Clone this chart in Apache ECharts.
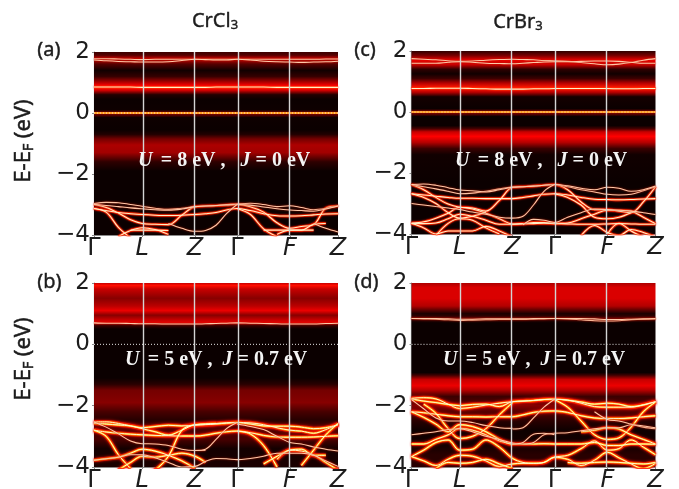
<!DOCTYPE html>
<html><head><meta charset="utf-8">
<style>html,body{margin:0;padding:0;background:#fff}#c{width:679px;height:489px}</style>
<script src="https://cdn.jsdelivr.net/npm/echarts@6/dist/echarts.min.js"></script>
</head><body><div id="c"></div>
<script>
const _ = null;
const kGrid = [0,.05,.1,.15,.197,.25,.305,.36,.414,.457,.5,.543,.586,.64,.695,.75,.803,.85,.9,.95,1];
const kTicks = [0,.197,.414,.586,.803,1];
const kLabels = ['Γ','L','Z','Γ','F','Z'];
const energyTicks = [-4,-2,0,2];

// intensity of the broad background, [energy, level 0..1]
const glowA = [[2,.08],[1.9,.12],[1.78,.3],[1.6,.12],[1.4,.015],[1.2,.07],[1.05,.22],[.92,.36],[.85,.42],[.75,.33],[.6,.04],[.45,.005],[.1,.01],[.03,.15],[0,.35],[-.05,.15],[-.15,.01],[-.55,.005],[-.7,.04],[-.85,.17],[-1.05,.26],[-1.3,.24],[-1.6,.06],[-1.9,.005],[-4,.005]];
const glowB = [[2,.3],[1.92,.42],[1.8,.3],[1.5,.2],[1.25,.28],[1.1,.36],[.95,.2],[.8,.3],[.7,.35],[.62,.08],[.5,.005],[-1.1,.005],[-1.3,.05],[-1.5,.17],[-1.9,.2],[-2.2,.1],[-2.45,.05],[-2.7,.1],[-3.1,.1],[-3.4,.02],[-4,.03]];
const glowC = [[2,.06],[1.85,.18],[1.7,.36],[1.55,.3],[1.4,.06],[1.25,.015],[1.1,.08],[.95,.27],[.8,.44],[.65,.28],[.5,.02],[.1,.005],[.03,.18],[0,.4],[-.04,.18],[-.15,.005],[-.45,.005],[-.55,.1],[-.65,.3],[-.8,.4],[-1.0,.27],[-1.2,.08],[-1.4,.015],[-2.3,.005],[-4,.005]];
const glowD = [[2,.26],[1.85,.33],[1.5,.33],[1.25,.27],[1.1,.12],[1,.03],[.92,.06],[.85,.15],[.78,.05],[.7,.005],[-.92,.005],[-1.0,.08],[-1.15,.3],[-1.35,.36],[-1.5,.27],[-1.7,.08],[-1.85,.1],[-2.0,.2],[-2.2,.12],[-2.5,.05],[-2.8,.01],[-3.3,.02],[-3.6,.05],[-4,.05]];

// bands, each sampled on kGrid
const bandsABright = [
 [.85,.85,.85,.85,.84,.84,.84,.84,.84,.84,.85,.85,.85,.85,.85,.84,.84,.84,.84,.84,.84],
 [-3.13,-3.2,-3.26,-3.3,-3.33,-3.35,-3.36,-3.35,-3.33,-3.3,-3.26,-3.18,-3.13,-3.2,-3.3,-3.37,-3.38,-3.37,-3.34,-3.31,-3.3],
 [-3.0,-3.1,-3.28,-3.5,-3.62,-3.65,-3.66,-3.35,-3.07,-3.05,-3.04,-3.02,-3.0,-3.07,-3.25,-3.6,-3.78,-3.72,-3.66,-3.12,-3.05],
 [-3.13,-3.25,-3.75,-4.1,_,_,_,_,_,_,_,_,-3.13,-3.32,-3.8,-4.05,_,_,_,_,_],
 [_,_,-4.05,-3.85,-3.76,-3.82,-3.98,_,_,_,_,_,_,_,_,-3.98,-3.84,-3.84,-3.65,-3.62,_],
 [_,_,_,-3.84,-3.84,-3.84,-3.85,_,_,_,_,_,_,_,-3.84,-3.84,-3.84,-3.84,-3.84,_,_]
];
const bandsAFaint = [
 [1.78,1.78,1.77,1.76,1.75,1.76,1.76,1.76,1.76,1.76,1.76,1.76,1.76,1.76,1.76,1.76,1.76,1.76,1.76,1.77,1.77],
 [1.74,1.71,1.69,1.68,1.67,1.67,1.68,1.72,1.76,1.75,1.74,1.74,1.76,1.74,1.7,1.68,1.67,1.66,1.67,1.68,1.7],
 [-2.97,-2.93,-2.94,-3.0,-3.06,-3.12,-3.16,-3.12,-3.07,-3.05,-3.03,-3.0,-2.98,-2.96,-3.0,-3.07,-3.04,-3.1,-3.17,-3.13,-3.05],
 [-3.0,-3.03,-3.07,-3.11,-3.14,-3.17,-3.19,-3.15,-3.07,-3.05,-3.03,-3.01,-3.0,-3.02,-3.08,-3.14,-3.18,-3.2,-3.22,-3.15,-3.05],
 [_,_,_,_,_,_,-3.62,-3.78,-3.88,-3.85,-3.68,-3.3,-3.0,_,_,_,_,_,_,_,_],
 [_,_,_,_,_,_,_,_,_,_,_,_,_,_,_,_,_,_,-3.62,-3.78,-3.9]
];
const bandsBBright = [
 [-2.8,-2.86,-2.9,-2.93,-2.95,-2.97,-2.98,-2.99,-2.99,-2.96,-2.9,-2.85,-2.83,-2.88,-2.97,-3.02,-3.03,-3.03,-3.02,-3.0,-2.98],
 [-2.53,-2.53,-2.58,-2.66,-2.75,-2.85,-2.96,-2.8,-2.62,-2.6,-2.58,-2.56,-2.55,-2.56,-2.62,-2.72,-2.8,-2.83,-2.9,-2.78,-2.62],
 [-2.57,-2.6,-2.63,-2.66,-2.72,-2.68,-2.64,-2.66,-2.64,-2.62,-2.6,-2.57,-2.55,-2.6,-2.66,-2.67,-2.67,-2.7,-2.75,-2.72,-2.62],
 [-2.8,-3.0,-3.6,-4.05,_,_,_,_,_,_,_,_,-2.83,-2.92,-3.3,-4.0,_,_,_,_,_],
 [-3.78,-3.73,-3.68,-3.55,-3.42,-3.48,-3.62,-3.8,-4.05,_,_,_,_,_,_,-3.75,-3.45,-3.48,-3.6,-3.85,-4.1],
 [_,_,-4.1,-3.85,-3.65,-3.68,-3.62,-3.55,-3.65,-3.85,_,_,_,_,-3.9,-3.65,-3.45,-3.42,-3.62,-3.62,_],
 [_,_,_,_,-4.3,-4.1,-3.65,-2.8,-2.62,-2.6,-2.58,_,_,_,_,_,_,-3.95,-3.45,-2.95,-2.58]
];
const bandsBFaint = [
 [.7,.69,.69,.68,.67,.67,.66,.66,.66,.67,.68,.69,.7,.69,.68,.67,.66,.66,.66,.68,.69],
 [-2.53,-2.7,-2.92,-3.15,-3.24,-3.25,-3.3,-3.42,-3.46,-3.46,_,_,_,_,_,_,_,_,_,_,_],
 [_,_,_,_,_,_,_,_,-3.46,-3.42,-3.1,-2.75,-2.55,_,_,_,_,_,_,_,_],
 [-3.78,-3.73,-3.68,-3.6,-3.6,-3.7,-3.85,-4,-3.98,-3.82,-3.72,-3.73,-3.76,-3.72,-3.65,-3.55,-3.55,-3.55,-3.62,-3.8,-3.98],
 [_,_,_,_,_,_,_,_,_,_,_,_,-2.6,-2.68,-2.78,-3.0,-3.2,-3.25,-3.35,-3.42,-3.48]
];
const bandsCBright = [
 [.77,.77,.78,.78,.78,.77,.76,.75,.75,.75,.76,.76,.77,.77,.77,.77,.77,.76,.76,.77,.77],
 [-2.68,-2.72,-2.76,-2.8,-2.83,-2.83,-2.84,-2.84,-2.84,-2.8,-2.75,-2.7,-2.68,-2.72,-2.8,-2.86,-2.87,-2.88,-2.87,-2.85,-2.84],
 [-2.38,-2.55,-2.8,-3.02,-3.12,-3.15,-3.25,-2.9,-2.47,-2.45,-2.43,-2.4,-2.38,-2.55,-2.95,-3.2,-3.2,-3.25,-3.3,-2.95,-2.45],
 [-2.68,-2.8,-3.0,-3.3,-3.48,-3.42,-3.28,_,_,_,_,_,-2.68,-2.8,-3.05,-3.45,-3.5,-3.45,-3.3,_,_],
 [-3.64,-3.6,-3.48,-3.32,-3.12,-3.18,-3.32,-3.5,-3.67,-3.66,-3.62,-3.62,-3.65,-3.64,-3.5,-3.35,-3.22,-3.22,-3.25,-3.45,-3.66],
 [-3.66,-3.66,-3.64,-3.5,-3.35,-3.42,-3.55,-3.68,-3.68,-3.67,-3.66,-3.65,-3.66,-3.67,-3.68,-3.68,-3.67,-3.66,-3.67,-3.68,-3.68],
 [-3.65,-3.8,-4.0,-3.9,-3.9,-3.9,-3.75,-3.9,-4.1,_,_,_,_,_,-4.05,-3.72,-3.95,-4.05,-3.85,-3.95,-4.1],
 [_,_,-4.05,-3.65,-3.5,-3.55,-3.8,-4.0,_,_,_,_,_,_,_,_,-4.0,-3.65,-3.9,-4.1,_]
];
const bandsCFaint = [
 [1.75,1.73,1.71,1.68,1.66,1.67,1.7,1.72,1.73,1.72,1.71,1.69,1.68,1.66,1.62,1.58,1.55,1.57,1.62,1.7,1.75],
 [1.6,1.6,1.6,1.63,1.65,1.63,1.6,1.59,1.58,1.6,1.62,1.64,1.65,1.65,1.66,1.67,1.67,1.66,1.63,1.6,1.6],
 [-2.38,-2.45,-2.52,-2.6,-2.68,-2.66,-2.6,-2.52,-2.46,-2.45,-2.43,-2.4,-2.38,-2.45,-2.55,-2.62,-2.7,-2.72,-2.7,-2.58,-2.45],
 [-2.38,-2.36,-2.4,-2.48,-2.56,-2.58,-2.62,-2.55,-2.47,-2.45,-2.43,-2.4,-2.38,-2.42,-2.5,-2.55,-2.47,-2.5,-2.6,-2.55,-2.43],
 [-3.0,-3.05,-3.1,-3.15,-3.2,-3.28,-3.35,-3.45,-3.48,-3.42,-3.05,-2.6,-2.38,_,_,_,_,_,_,_,_],
 [_,_,_,_,_,_,_,_,_,-3.7,-3.52,-3.55,-3.62,-3.45,-3.3,-3.18,-3.2,-3.22,-3.25,-3.3,-3.36]
];
const bandsDBright = [
 [-1.76,-1.74,-1.78,-1.95,-2.09,-2.05,-1.98,-1.92,-1.87,-1.85,-1.83,-1.8,-1.79,-1.82,-1.92,-2.03,-2.05,-2.05,-2.05,-1.97,-1.87],
 [-1.78,-1.85,-1.9,-1.96,-2.0,-1.96,-1.95,-2.03,-1.87,-1.85,-1.83,-1.8,-1.79,-1.82,-1.88,-1.95,-1.92,-1.95,-2.03,-1.98,-1.87],
 [-2.2,-2.23,-2.28,-2.33,-2.36,-2.36,-2.37,-2.36,-2.36,-2.3,-2.22,-2.18,-2.17,-2.22,-2.33,-2.4,-2.42,-2.42,-2.4,-2.36,-2.33],
 [_,-1.95,-2.25,-2.75,-3.07,-3.0,-2.75,-2.3,-1.9,_,_,_,-1.8,-2.05,-2.5,-2.95,-3.1,-3.05,-2.7,-2.2,-1.88],
 [-3.25,-3.25,-3.1,-2.95,-2.74,-2.8,-2.95,-3.15,-3.25,_,_,_,_,_,-2.85,-2.8,-2.72,-2.76,-2.95,-3.1,-3.25],
 [-3.66,-3.45,-3.2,-3.12,-3.45,-3.42,-3.12,-3.35,-3.72,-3.85,-3.88,-3.85,-3.68,-3.62,-3.4,-3.15,-3.45,-3.4,-3.12,-3.35,-3.6],
 [-3.66,-3.8,-3.95,-3.75,-3.62,-3.65,-3.8,-3.98,-3.9,-3.88,-3.88,-3.85,-3.68,-3.75,-3.95,-3.78,-3.52,-3.7,-3.9,-4.05,-3.88],
 [_,_,-4.05,-3.85,-3.88,-3.85,-3.75,-3.9,-4.05,_,_,_,_,-3.85,-3.88,-3.85,-3.84,-3.85,-3.88,-3.9,-3.85],
 [-2.2,-2.38,-2.6,-2.85,-2.62,-2.68,-2.85,-3.1,-3.25,-3.25,-3.25,-3.24,-3.25,-3.25,-3.25,-3.2,-3.3,-3.3,-3.25,-3.25,-3.26]
];
const bandsDFaint = [
 [.84,.83,.82,.8,.78,.79,.8,.81,.81,.81,.82,.83,.84,.83,.8,.77,.76,.77,.8,.82,.83],
 [.84,.84,.84,.83,.82,.82,.83,.83,.83,.83,.84,.84,.84,.84,.84,.83,.81,.81,.82,.83,.84],
 [-1.8,-2.1,-2.4,-2.5,-2.5,-2.55,-2.65,-2.72,-2.74,_,_,_,_,_,_,-2.2,-2.45,-2.5,-2.6,-2.7,-2.75],
 [-2.95,-2.9,-2.85,-2.78,-2.75,-2.85,-3.0,-3.1,-3.22,-3.25,-3.2,-2.95,-2.9,-2.88,-2.82,-2.75,-2.72,-2.72,-2.62,-2.66,-2.72],
 [_,_,_,_,_,_,_,_,-2.76,-2.72,-2.4,-2.05,-1.79,_,_,_,_,_,_,_,_],
 [_,_,_,_,_,_,_,_,-3.25,-3.2,-2.93,-2.9,-2.95,_,_,_,_,_,_,_,_]
];
const zeroLine = [0,0];
const kEnds = [0,1];

const panels = [
 {id:'(a)', left:94, top:52, h:183, glow:glowA, bright:bandsABright, faint:bandsAFaint, strong:true, u:'8', j:'0', nx:138, ny:151, lx:37, ly:40, sep:'   '},
 {id:'(b)', left:94, top:283, h:184, glow:glowB, bright:bandsBBright, faint:bandsBFaint, strong:false, u:'5', j:'0.7', nx:125, ny:350, lx:37, ly:272, sep:'  '},
 {id:'(c)', left:411.5, top:51, h:183, glow:glowC, bright:bandsCBright, faint:bandsCFaint, strong:true, u:'8', j:'0', nx:455, ny:151, lx:354, ly:40, sep:'   '},
 {id:'(d)', left:411.5, top:283, h:184, glow:glowD, bright:bandsDBright, faint:bandsDFaint, strong:false, u:'5', j:'0.7', nx:443, ny:350, lx:354, ly:272, sep:'  '}
];

function hot(v){
  const c = t => Math.round(255*Math.max(0,Math.min(1,t)));
  return `rgb(${c(.03+v/.4)},${c((v-.4)/.4)},${c((v-.8)/.2)})`;
}
const ink='#1c1c1c';
const grid=[],xAxis=[],yAxis=[],series=[],graphic=[];
panels.forEach((p,i)=>{
  grid.push({left:p.left,top:p.top,width:244,height:p.h,containLabel:false,outerBoundsMode:'none'});
  xAxis.push({type:'value',gridIndex:i,min:0,max:1,
    axisLine:{show:true,onZero:false,lineStyle:{color:'#8a8a8a',width:1.2}},
    axisTick:{show:true,length:2,lineStyle:{color:'#8a8a8a'},customValues:kTicks},
    splitLine:{show:false},
    axisLabel:{customValues:kTicks,margin:2,fontFamily:'DejaVu Sans',fontSize:24,color:ink,
      formatter:v=>{const n=kTicks.indexOf(v);const s=kLabels[n];return s==='Γ'?s:'{i|'+s+'}';},
      rich:{i:{fontFamily:'DejaVu Sans',fontStyle:'italic',fontSize:24,color:ink}}}});
  yAxis.push({type:'value',gridIndex:i,min:-4,max:2,
    axisLine:{show:true,onZero:false,lineStyle:{color:'#8a8a8a',width:1.2}},
    axisTick:{show:true,length:2,lineStyle:{color:'#8a8a8a'},customValues:energyTicks},
    splitLine:{show:false},
    axisLabel:{customValues:energyTicks,margin:4,fontFamily:'DejaVu Sans',fontSize:23,color:ink,
      formatter:v=>String(v).replace('-','\u2212')}});
  const top=p.glow[0][0], span=top-p.glow[p.glow.length-1][0];
  const stops=p.glow.map(g=>({offset:(top-g[0])/span,color:hot(g[1])}));
  series.push({type:'custom',xAxisIndex:i,yAxisIndex:i,z:1,silent:true,clip:true,data:p.glow,
    encode:{y:0},
    renderItem:(params,api)=>{
      if(params.dataIndex!==0) return null;
      const a=api.coord([0,2]),b=api.coord([1,-4]);
      return {type:'rect',shape:{x:a[0],y:a[1],width:b[0]-a[0],height:b[1]-a[1]},
        style:{fill:new echarts.graphic.LinearGradient(0,0,0,1,stops)}};
    }});
  const addBand=(vals,kind)=>{
    const data=vals.map((v,n)=>[kGrid[n],v]);
    const line=(z,style)=>series.push({type:'line',xAxisIndex:i,yAxisIndex:i,z,silent:true,symbol:'none',smooth:.35,data,lineStyle:style});
    if(kind==='bright'){
      if(p.strong){
        line(2,{color:'#ff3000',width:2.6,opacity:.85,shadowColor:'#ff1000',shadowBlur:2});
        line(3,{color:'#fff0c8',width:1.05});
      } else {
        line(2,{color:'#ff2000',width:4,opacity:.75,shadowColor:'#ff1000',shadowBlur:3});
        line(2,{color:'#ffb000',width:2});
        line(3,{color:'#fff8d0',width:1});
      }
    } else {
      line(3,{color:'#ffc8a8',width:1.05,shadowColor:'#c02000',shadowBlur:2});
    }
  };
  p.bright.forEach(b=>addBand(b,'bright'));
  p.faint.forEach(b=>addBand(b,'faint'));
  const zd=kEnds.map((k,n)=>[k,zeroLine[n]]);
  if(p.strong) series.push({type:'line',xAxisIndex:i,yAxisIndex:i,z:3,silent:true,symbol:'none',data:zd,
    lineStyle:{color:'#ff9a20',width:2}});
  series.push({type:'line',xAxisIndex:i,yAxisIndex:i,z:4,silent:true,symbol:'none',data:zd,
    lineStyle:{color:'#fff',width:1,type:[1,2],opacity:p.strong?.7:.9}});
  series.push({type:'line',xAxisIndex:i,yAxisIndex:i,z:5,silent:true,symbol:'none',data:[],
    markLine:{silent:true,symbol:'none',label:{show:false},animation:false,
      lineStyle:{color:'#d4d4d4',width:1.4,type:'solid',opacity:1},
      data:kTicks.slice(1,5).map(k=>({xAxis:k}))}});
  graphic.push({type:'text',z:20,left:p.nx,top:p.ny,silent:true,
    style:{text:'{i|U} {b| = '+p.u+' eV ,'+p.sep+'}{i|J}{b| = '+p.j+' eV}',
      rich:{i:{font:'italic bold 20px "Liberation Serif"',fill:'#f4f4f4'},b:{font:'bold 20px "Liberation Serif"',fill:'#f4f4f4'}}}});
  graphic.push({type:'text',z:20,left:p.lx,top:p.ly,silent:true,
    style:{text:p.id,font:'20px "Noto Sans"',fill:ink,stroke:ink,lineWidth:.4}});
});
const ylab=(cy)=>({type:'text',z:20,x:24,y:cy,rotation:Math.PI/2,originX:0,originY:0,silent:true,
  style:{text:'E-E{s|F} (eV)',align:'center',verticalAlign:'middle',font:'22px "Noto Sans"',fill:ink,stroke:ink,lineWidth:.5,
    rich:{s:{font:'14px "Noto Sans"',fill:ink,stroke:ink,lineWidth:.5,verticalAlign:'bottom',padding:[10,0,0,0]}}}});
graphic.push(ylab(141),ylab(359));
const ttl=(x,y,a)=>({type:'text',z:20,x,y,silent:true,
  style:{text:a+'{s|3}',align:'center',verticalAlign:'middle',font:'20px "Noto Sans"',fill:ink,stroke:ink,lineWidth:.4,
    rich:{s:{font:'13px "Noto Sans"',fill:ink,stroke:ink,lineWidth:.4,padding:[9,0,0,0]}}}});
graphic.push(ttl(215,21,'CrCl'),ttl(518,22,'CrBr'));

const chart=echarts.init(document.getElementById('c'),null,{renderer:'canvas'});
chart.setOption({animation:false,backgroundColor:'#fff',grid,xAxis,yAxis,series,graphic});
</script></body></html>
